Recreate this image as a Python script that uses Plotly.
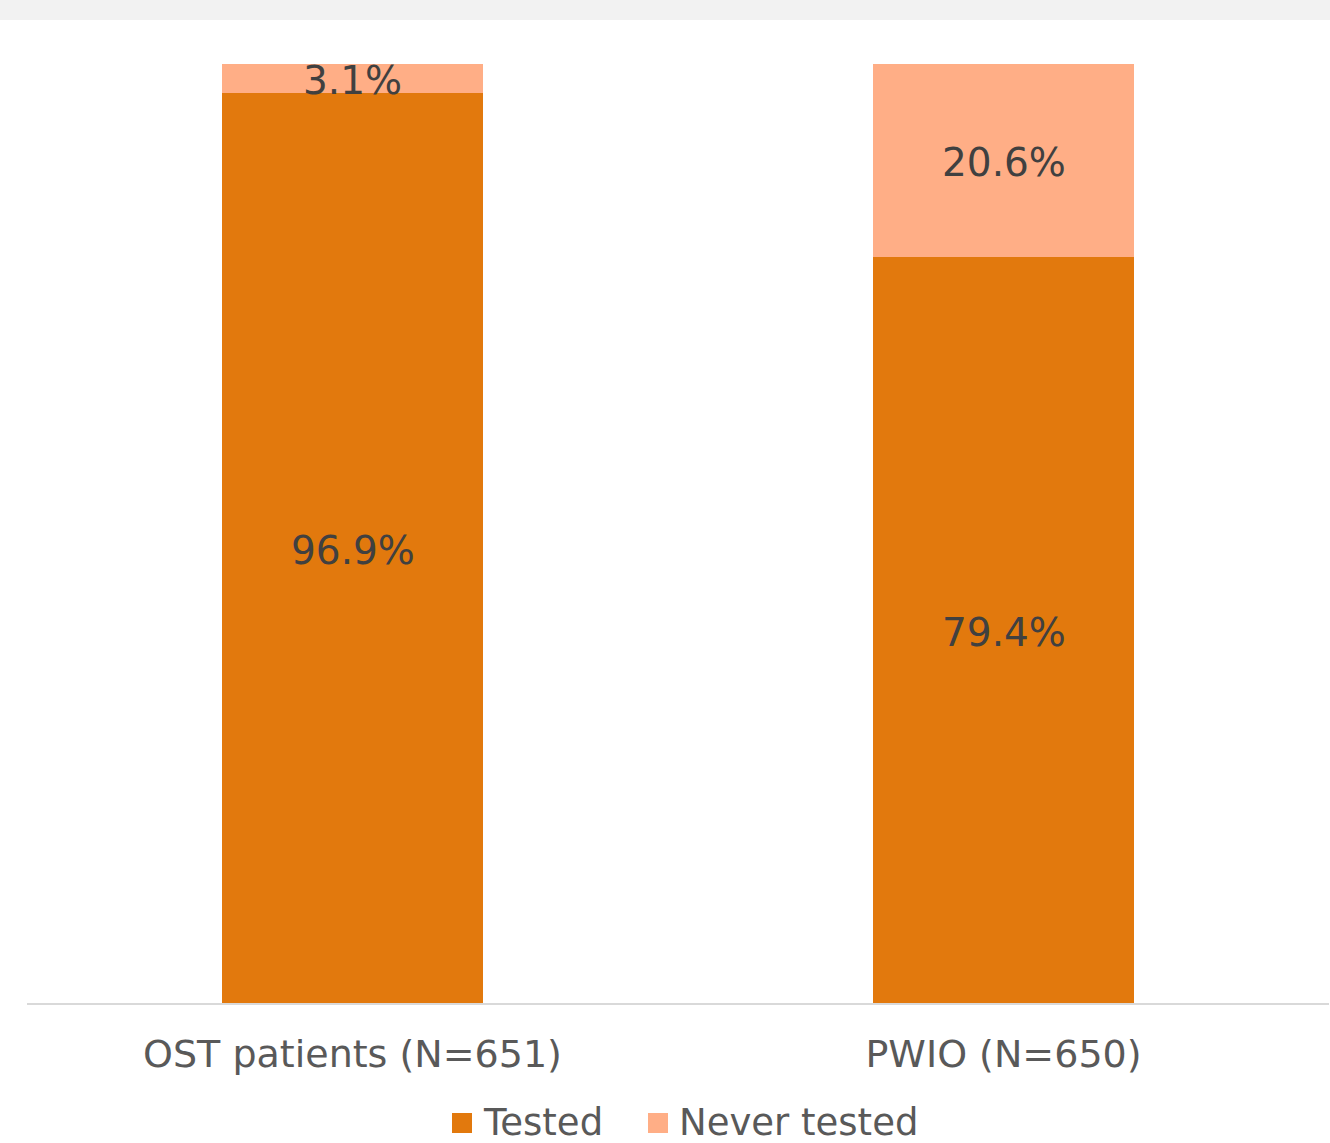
import plotly.graph_objects as go

categories = ["OST patients (N=651)", "PWIO (N=650)"]
series_names = ["Tested", "Never tested"]
tested = [96.9, 79.4]
never_tested = [3.1, 20.6]

TESTED_COLOR = "#E2790D"
NEVER_COLOR = "#FFAE86"
FONT = "Verdana, DejaVu Sans, sans-serif"

W, H = 1330, 1143
M_L, M_R, M_T, M_B = 27, 1, 64, 140

fig = go.Figure()
fig.add_trace(go.Bar(x=categories, y=tested, name=series_names[0], showlegend=False,
                     marker=dict(color=TESTED_COLOR, line=dict(width=0))))
fig.add_trace(go.Bar(x=categories, y=never_tested, name=series_names[1], showlegend=False,
                     marker=dict(color=NEVER_COLOR, line=dict(width=0))))

# value labels centred in each segment
for cat, t, n in zip(categories, tested, never_tested):
    for base, val in ((0, t), (t, n)):
        fig.add_annotation(x=cat, y=base + val / 2, text=f"{val:.1f}%",
                           showarrow=False, xref="x", yref="y", yshift=-2,
                           font=dict(family=FONT, size=39, color="#404040"))

# pixel -> paper helpers for decorations outside the plot area
pw, ph = W - M_L - M_R, H - M_T - M_B
def px(x):
    return (x - M_L) / pw
def py(y):
    return (H - M_B - y) / ph

# grey header band
fig.add_shape(type="rect", xref="paper", yref="paper",
              x0=px(-10), x1=px(W + 10), y0=py(20), y1=py(-10),
              fillcolor="#F2F2F2", line=dict(width=0), layer="below")

# legend below the axis
legend_items = [(series_names[0], TESTED_COLOR, 452), (series_names[1], NEVER_COLOR, 648)]
for name, color, x0 in legend_items:
    fig.add_shape(type="rect", xref="paper", yref="paper",
                  x0=px(x0), x1=px(x0 + 20), y0=py(1133), y1=py(1113),
                  fillcolor=color, line=dict(width=0))
    fig.add_annotation(x=px(x0 + 29), y=py(1122), xref="paper", yref="paper",
                       text=name, showarrow=False, xanchor="left", yanchor="middle",
                       font=dict(family=FONT, size=37, color="#595959"))

fig.update_layout(
    barmode="stack",
    bargap=0.6,
    width=W, height=H,
    margin=dict(l=M_L, r=M_R, t=M_T, b=M_B, autoexpand=False),
    paper_bgcolor="white", plot_bgcolor="white",
    font=dict(family=FONT, size=38, color="#595959"),
    showlegend=False,
    xaxis=dict(showline=True, linecolor="#D9D9D9", linewidth=2, ticks="",
               showgrid=False, range=[-0.5, 1.5], ticklabelstandoff=16,
               automargin=False,
               tickfont=dict(family=FONT, size=38, color="#595959")),
    yaxis=dict(range=[0, 100], visible=False, showgrid=False, automargin=False),
)

fig.write_html("out.html")
